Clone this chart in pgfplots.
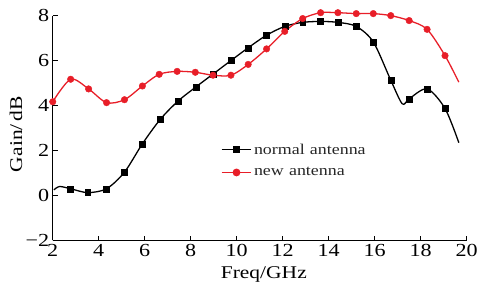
\documentclass[border=0pt]{standalone}
\usepackage{fontspec}
\setmainfont{Liberation Serif}[FakeStretch=1.2]
\usepackage{pgfplots}
\pgfplotsset{compat=1.18}
\definecolor{myred}{RGB}{232,30,40}
\begin{document}
\begin{tikzpicture}
\begin{axis}[name=ax,
  scale only axis, width=416pt, height=226pt,
  xmin=2, xmax=20, ymin=-2, ymax=8,
  axis x line*=bottom, axis y line*=left,
  axis line style={-, line width=0.8pt},
  xtick={2,4,...,20}, ytick={-2,0,...,8},
  yticklabels={−2,0,2,4,6,8},
  tick align=inside, major tick length=5pt,
  tick style={line width=0.8pt, black},
  ticklabel style={font=\fontsize{18.5}{20}\selectfont},
  /pgf/number format/assume math mode=true,
  xlabel={Freq/GHz}, ylabel={Gain/\,dB},
  label style={font=\fontsize{18}{20}\selectfont},
  xlabel style={at={(axis description cs:0.51,-0.168)}, anchor=base},
  ylabel style={at={(axis description cs:-0.089,0.473)}, anchor=center},
  clip=false,
  legend style={draw=none, fill=none, at={(0.406,0.44)}, anchor=north west,
    font=\fontsize{15}{17}\selectfont, inner sep=0pt, row sep=8pt,
    text=black!85, cells={anchor=west}},
  legend image code/.code={\draw[#1, mark repeat=2, mark phase=2] plot coordinates {(0pt,0pt) (15pt,0pt) (30pt,0pt)};},
]
\addplot[black, line width=1.3pt, smooth, forget plot] coordinates {
(2.05,0.25)(2.3,0.4)(2.78,0.3)(3.52,0.13)(4.34,0.3)(5.12,1.04)(5.9,2.3)(6.68,3.39)(7.45,4.2)(8.23,4.83)(8.97,5.4)(9.75,6.0)(10.5,6.57)(11.3,7.13)(12.09,7.52)(12.87,7.7)(13.65,7.74)(14.4,7.7)(15.2,7.52)(15.94,6.83)(16.7,5.13)(17.2,4.08)(17.5,4.3)(18.28,4.74)(19.06,3.87)(19.66,2.35)};
\addplot[black, only marks, mark=square*, mark size=3pt, forget plot] coordinates {
(2.78,0.3)(3.52,0.13)(4.34,0.3)(5.12,1.04)(5.9,2.3)(6.68,3.39)(7.45,4.2)(8.23,4.83)(8.97,5.4)(9.75,6.0)(10.5,6.57)(11.3,7.13)(12.09,7.52)(12.87,7.7)(13.65,7.74)(14.4,7.7)(15.2,7.52)(15.94,6.83)(16.7,5.13)(17.5,4.3)(18.28,4.74)(19.06,3.87)};
\addplot[myred, line width=1.3pt, smooth, forget plot] coordinates {
(2.0,4.17)(2.78,5.17)(3.56,4.74)(4.34,4.13)(5.12,4.26)(5.9,4.87)(6.63,5.39)(7.41,5.52)(8.2,5.48)(8.97,5.35)(9.75,5.35)(10.5,5.83)(11.3,6.52)(12.09,7.3)(12.87,7.87)(13.65,8.13)(14.4,8.13)(15.2,8.09)(15.94,8.09)(16.7,8.0)(17.5,7.78)(18.28,7.39)(19.06,6.22)(19.66,5.04)};
\addplot[myred, only marks, mark=*, mark size=3.3pt, forget plot] coordinates {
(2.0,4.17)(2.78,5.17)(3.56,4.74)(4.34,4.13)(5.12,4.26)(5.9,4.87)(6.63,5.39)(7.41,5.52)(8.2,5.48)(8.97,5.35)(9.75,5.35)(10.5,5.83)(11.3,6.52)(12.09,7.3)(12.87,7.87)(13.65,8.13)(14.4,8.13)(15.2,8.09)(15.94,8.09)(16.7,8.0)(17.5,7.78)(18.28,7.39)(19.06,6.22)};
\addlegendimage{black, line width=1.2pt, mark=square*, mark size=3pt}
\addlegendentry{normal\hspace{0.35em}antenna}
\addlegendimage{myred, line width=1.2pt, mark=*, mark size=3.3pt}
\addlegendentry{new\hspace{0.35em}antenna}
\end{axis}
\path ([shift={(-53pt,-45pt)}]ax.south west) rectangle ([shift={(12pt,15.7pt)}]ax.north east);
\end{tikzpicture}
\end{document}
